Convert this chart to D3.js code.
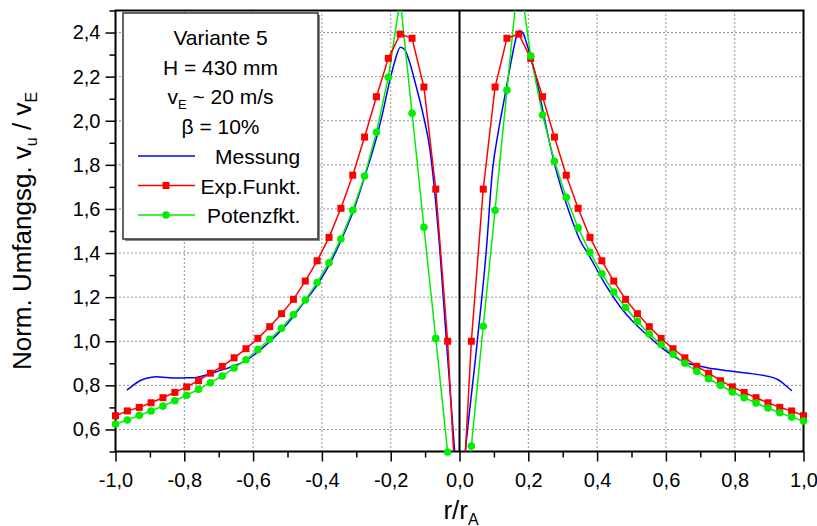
<!DOCTYPE html>
<html>
<head>
<meta charset="utf-8">
<script src="https://cdn.jsdelivr.net/npm/d3@7"></script>
<style>
  body { margin: 0; background: #fff; }
  svg { display: block; }
  text { font-family: "Liberation Sans", Arial, sans-serif; fill: #000; }
</style>
</head>
<body>
<svg id="chart" width="817" height="526"></svg>
<script>
// radial positions r/rA of the model points (one half, 0 .. 1)
const rPos = [0, 0.0345, 0.069, 0.1034, 0.1379, 0.1724, 0.2069, 0.2414, 0.2759, 0.3103,
    0.3448, 0.3793, 0.4138, 0.4483, 0.4828, 0.5172, 0.5517, 0.5862, 0.6207, 0.6552,
    0.6897, 0.7241, 0.7586, 0.7931, 0.8276, 0.8621, 0.8966, 0.931, 0.9655, 1.0]

// Exp.Funkt. (same on both sides)
const expVals = [0, 1.0, 1.69, 2.153, 2.374, 2.393, 2.283, 2.109, 1.926, 1.753,
    1.603, 1.471, 1.365, 1.273, 1.19, 1.125, 1.066, 1.013, 0.966, 0.925,
    0.886, 0.855, 0.821, 0.793, 0.768, 0.744, 0.721, 0.700, 0.684, 0.662]

// Potenzfkt., left half (at -rPos) and right half (at +rPos)
const potLeft = [0, 0.498, 1.013, 1.517, 2.034, 2.55, 2.197, 1.948, 1.749, 1.594,
    1.464, 1.356, 1.266, 1.187, 1.120, 1.059, 1.009, 0.962, 0.916, 0.879,
    0.842, 0.812, 0.782, 0.755, 0.730, 0.706, 0.684, 0.664, 0.643, 0.625]
const potRight = [0, 0.525, 1.068, 1.594, 2.139, 2.68, 2.294, 2.026, 1.816, 1.653,
    1.514, 1.403, 1.306, 1.223, 1.153, 1.090, 1.033, 0.985, 0.941, 0.900,
    0.864, 0.830, 0.800, 0.770, 0.744, 0.720, 0.697, 0.676, 0.656, 0.638]

// Messung (measured profile)
const messR = [-0.967, -0.949, -0.929, -0.91, -0.881, -0.852, -0.823, -0.794, -0.765, -0.736,
    -0.707, -0.677, -0.658, -0.619, -0.586, -0.552, -0.518, -0.484, -0.455, -0.414,
    -0.379, -0.345, -0.31, -0.273, -0.241, -0.222, -0.203, -0.188, -0.172, -0.159,
    -0.145, -0.125, -0.106, -0.086, -0.079, -0.057, -0.038, -0.014, 0.0,
    0.017, 0.049, 0.078, 0.096, 0.112, 0.1315, 0.151, 0.1655, 0.175, 0.185,
    0.195, 0.207, 0.224, 0.24, 0.258, 0.277, 0.32, 0.35, 0.379, 0.408,
    0.437, 0.465, 0.495, 0.524, 0.553, 0.582, 0.62, 0.65, 0.68, 0.72,
    0.78, 0.84, 0.89, 0.91, 0.93, 0.95, 0.966]
const messV = [0.778, 0.80, 0.821, 0.832, 0.839, 0.836, 0.833, 0.834, 0.836, 0.847,
    0.862, 0.876, 0.887, 0.913, 0.952, 0.998, 1.05, 1.11, 1.17, 1.255,
    1.345, 1.455, 1.585, 1.76, 1.925, 2.045, 2.18, 2.27, 2.333, 2.322,
    2.265, 2.15, 2.03, 1.87, 1.78, 1.41, 1.0, 0.5, 0.2,
    0.5, 0.96, 1.414, 1.777, 1.943, 2.109, 2.276, 2.381, 2.408, 2.397,
    2.351, 2.29, 2.185, 2.064, 1.928, 1.80, 1.58, 1.459, 1.383, 1.30,
    1.225, 1.161, 1.104, 1.059, 1.018, 0.978, 0.935, 0.908, 0.893, 0.880,
    0.866, 0.855, 0.843, 0.836, 0.822, 0.797, 0.775]

const xMajor = [-1, -0.8, -0.6, -0.4, -0.2, 0, 0.2, 0.4, 0.6, 0.8, 1]
const xMinor = [-0.9, -0.7, -0.5, -0.3, -0.1, 0.1, 0.3, 0.5, 0.7, 0.9]
const yMajor = [0.6, 0.8, 1.0, 1.2, 1.4, 1.6, 1.8, 2.0, 2.2, 2.4]
const yMinor = [0.5, 0.7, 0.9, 1.1, 1.3, 1.5, 1.7, 1.9, 2.1, 2.3, 2.5]

const legendLines = ["Variante 5", "H = 430 mm", null, "\u03b2 = 10%"]

const svg = d3.select("#chart")
const x = d3.scaleLinear().domain([-1, 1]).range([115.5, 803.5])
const y = d3.scaleLinear().domain([0.5, 2.5]).range([451.5, 10.5])
const fmt = d => d.toFixed(1).replace(".", ",")

// build point lists
const expPts = rPos.slice().reverse().map((r, i) => [-r, expVals[29 - i]])
    .concat(rPos.slice(1).map((r, i) => [r, expVals[i + 1]]))
const potPts = rPos.slice().reverse().map((r, i) => [-r, potLeft[29 - i]])
    .concat(rPos.slice(1).map((r, i) => [r, potRight[i + 1]]))
const messPts = messR.map((r, i) => [r, messV[i]])

svg.append("defs").append("clipPath").attr("id", "plotclip")
    .append("rect")
    .attr("x", x(-1)).attr("y", y(2.5))
    .attr("width", x(1) - x(-1)).attr("height", y(0.5) - y(2.5))

// grid
const grid = svg.append("g").attr("stroke", "#222").attr("stroke-width", 1).attr("stroke-dasharray", "1,3")
grid.selectAll(".gx").data(xMajor.filter(d => d != 0 && Math.abs(d) != 1)).join("line")
    .attr("x1", d => x(d)).attr("x2", d => x(d))
    .attr("y1", y(0.5)).attr("y2", y(2.5))
grid.selectAll(".gy").data(yMajor).join("line")
    .attr("x1", x(-1)).attr("x2", x(1))
    .attr("y1", d => y(d)).attr("y2", d => y(d))

// zero line
svg.append("line")
    .attr("x1", x(0)).attr("x2", x(0)).attr("y1", y(0.5)).attr("y2", y(2.5))
    .attr("stroke", "#000").attr("stroke-width", 2)

// axes
const xAxis = svg.append("g").attr("transform", `translate(0,${y(0.5)})`)
    .call(d3.axisBottom(x).tickValues(xMajor).tickFormat(fmt).tickSize(10).tickPadding(11.5))
xAxis.append("g").call(d3.axisBottom(x).tickValues(xMinor).tickFormat("").tickSize(6))
const yAxis = svg.append("g").attr("transform", `translate(${x(-1)},0)`)
    .call(d3.axisLeft(y).tickValues(yMajor).tickFormat(fmt).tickSize(10).tickPadding(5))
yAxis.append("g").call(d3.axisLeft(y).tickValues(yMinor).tickFormat("").tickSize(6))
svg.selectAll(".domain").remove()
svg.selectAll(".tick line").attr("stroke", "#000").attr("stroke-width", 1.5)
svg.selectAll(".tick text").attr("font-size", 20).attr("font-family", '"Liberation Sans", Arial, sans-serif')

// frame
svg.append("rect")
    .attr("x", x(-1)).attr("y", y(2.5))
    .attr("width", x(1) - x(-1)).attr("height", y(0.5) - y(2.5))
    .attr("fill", "none").attr("stroke", "#000").attr("stroke-width", 2)

// series
const plot = svg.append("g").attr("clip-path", "url(#plotclip)")
const straight = d3.line().x(d => x(d[0])).y(d => y(d[1]))
const smooth = d3.line().x(d => x(d[0])).y(d => y(d[1])).curve(d3.curveMonotoneX)

plot.append("path").datum(messPts).attr("d", smooth)
    .attr("fill", "none").attr("stroke", "#0000ff").attr("stroke-width", 1.5)
plot.append("path").datum(potPts).attr("d", straight)
    .attr("fill", "none").attr("stroke", "#00ee00").attr("stroke-width", 1.5)
plot.append("path").datum(expPts).attr("d", straight)
    .attr("fill", "none").attr("stroke", "#ff0000").attr("stroke-width", 1.5)

const inRange = d => d[1] >= 0.49 && d[1] <= 2.5
svg.append("g").selectAll("rect").data(expPts.filter(inRange)).join("rect")
    .attr("x", d => x(d[0]) - 3.5).attr("y", d => y(d[1]) - 3.5)
    .attr("width", 7).attr("height", 7).attr("fill", "#ff0000")
svg.append("g").selectAll("circle").data(potPts.filter(inRange)).join("circle")
    .attr("cx", d => x(d[0])).attr("cy", d => y(d[1])).attr("r", 3.8)
    .attr("fill", "#00ee00")

// legend
const lg = svg.append("g")
lg.append("rect").attr("x", 125).attr("y", 15).attr("width", 195).attr("height", 226).attr("fill", "#888")
lg.append("rect").attr("x", 123).attr("y", 13).attr("width", 195).attr("height", 226)
    .attr("fill", "#fff").attr("stroke", "#333").attr("stroke-width", 1.5)
const lgText = lg.append("g").attr("font-size", 21).attr("text-anchor", "middle")
legendLines.forEach((t, i) => {
    const yy = 45 + i * 29.5
    if (t !== null) {
        lgText.append("text").attr("x", 220.5).attr("y", yy).text(t)
    } else {
        const tx = lgText.append("text").attr("x", 220.5).attr("y", yy)
        tx.append("tspan").text("v")
        tx.append("tspan").attr("font-size", 13).attr("dy", 5).text("E")
        tx.append("tspan").attr("dy", -5).text(" ~ 20 m/s")
    }
})
const series = [
    { name: "Messung", color: "#0000ff", mark: null, tx: 215 },
    { name: "Exp.Funkt.", color: "#ff0000", mark: "square", tx: 200.5 },
    { name: "Potenzfkt.", color: "#00ee00", mark: "circle", tx: 207 }
]
series.forEach((s, i) => {
    const yy = 156 + i * 29.5
    lg.append("line").attr("x1", 138).attr("x2", 195).attr("y1", yy).attr("y2", yy)
        .attr("stroke", s.color).attr("stroke-width", 1.5)
    if (s.mark == "square") lg.append("rect").attr("x", 162.5).attr("y", yy - 3.5).attr("width", 7).attr("height", 7).attr("fill", s.color)
    if (s.mark == "circle") lg.append("circle").attr("cx", 166).attr("cy", yy).attr("r", 3.8).attr("fill", s.color)
    lg.append("text").attr("x", s.tx).attr("y", yy + 8).attr("font-size", 21).text(s.name)
})

// axis titles
const xt = svg.append("text").attr("x", 461).attr("y", 519).attr("font-size", 26).attr("text-anchor", "middle")
xt.append("tspan").text("r/r")
xt.append("tspan").attr("font-size", 16).attr("dy", 6).text("A")

const yt = svg.append("text").attr("transform", "translate(31,231) rotate(-90)")
    .attr("font-size", 26).attr("text-anchor", "middle")
yt.append("tspan").text("Norm. Umfangsg. v")
yt.append("tspan").attr("font-size", 16).attr("dy", 6).text("u")
yt.append("tspan").attr("dy", -6).text(" / v")
yt.append("tspan").attr("font-size", 16).attr("dy", 6).text("E")
</script>
</body>
</html>
